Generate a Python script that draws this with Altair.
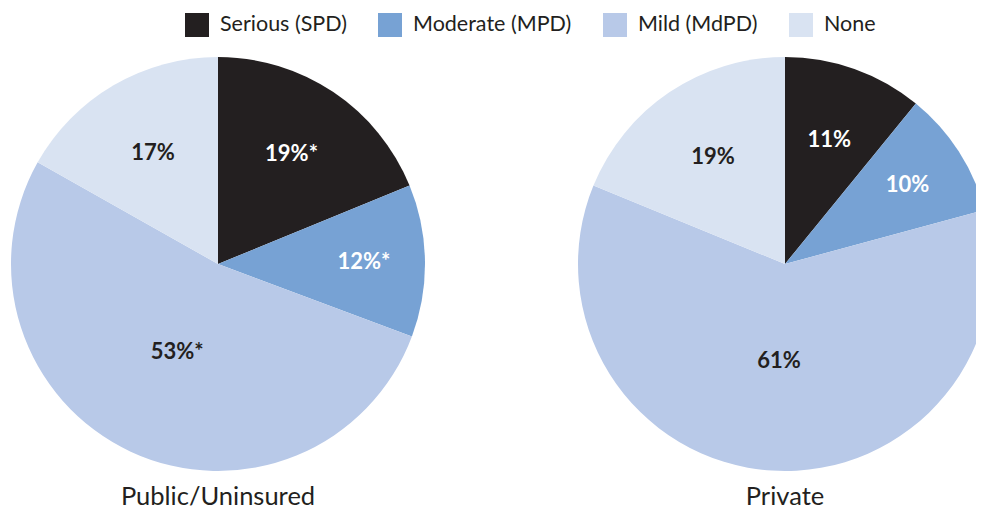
import altair as alt
import pandas as pd

groups = ["Public/Uninsured", "Private"]
categories = ["Serious (SPD)", "Moderate (MPD)", "Mild (MdPD)", "None"]
colors = ["#231f20", "#77a2d4", "#b8c9e8", "#d9e3f2"]
public_values = [19, 12, 53, 17]
private_values = [11, 10, 61, 19]
public_labels = ["19%*", "12%*", "53%*", "17%"]
private_labels = ["11%", "10%", "61%", "19%"]

rows = []
for g, vals, labs in [(groups[0], public_values, public_labels),
                      (groups[1], private_values, private_labels)]:
    for i, (c, v, l) in enumerate(zip(categories, vals, labs)):
        rows.append({"group": g, "category": c, "value": v, "label": l, "order": i})
df = pd.DataFrame(rows)
titles = pd.DataFrame({"group": groups})

FONT = "Lato"
xscale = alt.Scale(type="point", domain=groups, range=[210, 777], padding=0)
tscale = alt.Scale(domain=[0, 1], range=[0, 6.283185307179586])

base = alt.Chart(df).transform_stack(
    stack="value", groupby=["group"], as_=["t0", "t1"], offset="normalize",
    sort=[alt.SortField("order", order="ascending")]
)

arcs = base.mark_arc(radius=207, stroke=None).encode(
    x=alt.X("group:N", scale=xscale, axis=None),
    y=alt.value(256),
    theta=alt.Theta("t0:Q", scale=tscale),
    theta2="t1:Q",
    color=alt.Color("category:N", scale=alt.Scale(domain=categories, range=colors),
                    legend=alt.Legend(title=None, orient="none", direction="horizontal",
                                      legendX=177, legendY=5, symbolType="square",
                                      symbolSize=576, symbolStrokeWidth=0,
                                      labelFont=FONT, labelFontSize=21.5, labelColor="#231f20",
                                      labelOffset=11, columnPadding=31, symbolOpacity=1)),
)

labels = base.transform_calculate(
    tm="(datum.t0 + datum.t1) / 2",
    lr="datum.order == 2 ? 97 : (datum.order == 1 ? 146 : (datum.order == 0 ? 132 : 129))",
).mark_text(font=FONT, fontSize=22, fontWeight="bold", align="center", baseline="middle").encode(
    x=alt.X("group:N", scale=xscale, axis=None),
    y=alt.value(256),
    theta=alt.Theta("tm:Q", scale=tscale),
    radius=alt.Radius("lr:Q", scale=None),
    text="label:N",
    color=alt.condition(alt.FieldOneOfPredicate(field="category", oneOf=categories[:2]),
                        alt.value("white"), alt.value("#231f20")),
)

title_text = alt.Chart(titles).mark_text(font=FONT, fontSize=25.5, color="#231f20",
                                         align="center", baseline="alphabetic").encode(
    x=alt.X("group:N", scale=xscale, axis=None),
    y=alt.value(497),
    text="group:N",
)

chart = alt.layer(arcs, labels, title_text).properties(
    width=968, height=502, padding=0,
    autosize=alt.AutoSizeParams(type="none"),
).configure_view(stroke=None)

chart.save("out.html", embed_options={"renderer": "svg", "actions": False})
